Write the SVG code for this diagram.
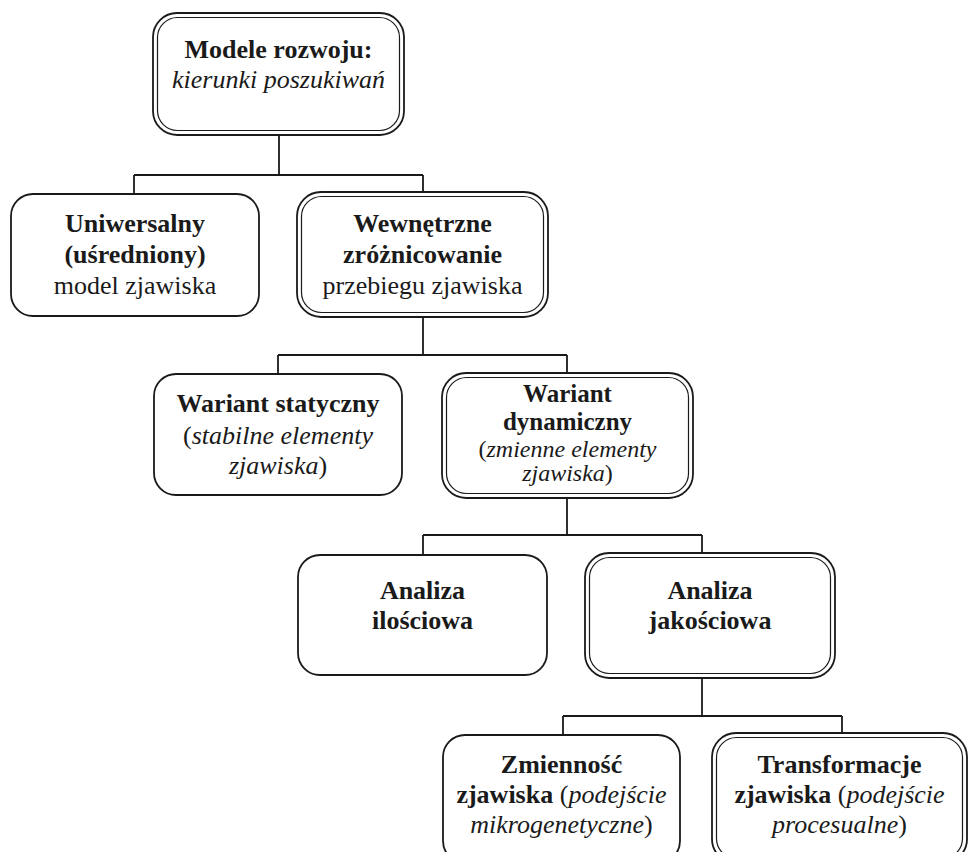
<svg xmlns="http://www.w3.org/2000/svg" width="970" height="852" viewBox="0 0 970 852">
<style>
.o{fill:#fff;stroke:#1a1a1a;stroke-width:1.8}
.i{fill:none;stroke:#1a1a1a;stroke-width:1.2}
.c{fill:none;stroke:#1a1a1a;stroke-width:1.8}
text{font-family:"Liberation Serif","Times New Roman",serif;font-size:26px;fill:#1a1a1a;text-anchor:middle}
.b{font-weight:bold}
.it{font-style:italic}
.s{font-size:24px}
.t{font-size:25px}
</style>
<rect width="970" height="852" fill="#fff"/>
<g id="connectors">
<path class="c" d="M279 135V175M134 175H423M134 175V194M423 175V192"/>
<path class="c" d="M423 317V355M278 355H567M278 355V374M567 355V373"/>
<path class="c" d="M567 498V535M423 535H702M423 535V555M702 535V553"/>
<path class="c" d="M702 678V716M563 716H842M563 716V735M842 716V733"/>
</g>
<g id="n-top">
<rect class="o" x="153" y="13" width="251" height="122" rx="24"/>
<rect class="i" x="157.5" y="17.5" width="242" height="113" rx="20"/>
<text x="278.5" y="58" class="b">Modele rozwoju:</text>
<text x="278.5" y="88" class="it">kierunki poszukiwań</text>
</g>
<g id="n-uniwersalny">
<rect class="o" x="11" y="194" width="248" height="122" rx="22"/>
<text x="135" y="232" class="b">Uniwersalny</text>
<text x="135" y="263" class="b">(uśredniony)</text>
<text x="135" y="294">model zjawiska</text>
</g>
<g id="n-wewnetrzne">
<rect class="o" x="297" y="192" width="251" height="125" rx="24"/>
<rect class="i" x="301.5" y="196.5" width="242" height="116" rx="20"/>
<text x="422.5" y="232" class="b">Wewnętrzne</text>
<text x="422.5" y="263" class="b">zróżnicowanie</text>
<text x="422.5" y="294">przebiegu zjawiska</text>
</g>
<g id="n-statyczny">
<rect class="o" x="154" y="374" width="248" height="121" rx="22"/>
<text x="278" y="412" class="b">Wariant statyczny</text>
<text x="278" y="444">(<tspan class="it">stabilne elementy</tspan></text>
<text x="278" y="474"><tspan class="it">zjawiska</tspan>)</text>
</g>
<g id="n-dynamiczny">
<rect class="o" x="442" y="373" width="251" height="125" rx="24"/>
<rect class="i" x="446.5" y="377.5" width="242" height="116" rx="20"/>
<text x="567.5" y="402" class="b t">Wariant</text>
<text x="567.5" y="430" class="b t">dynamiczny</text>
<text x="567.5" y="457" class="s">(<tspan class="it">zmienne elementy</tspan></text>
<text x="567.5" y="481" class="s"><tspan class="it">zjawiska</tspan>)</text>
</g>
<g id="n-ilosciowa">
<rect class="o" x="298" y="555" width="249" height="120" rx="22"/>
<text x="422.5" y="599" class="b">Analiza</text>
<text x="422.5" y="629" class="b">ilościowa</text>
</g>
<g id="n-jakosciowa">
<rect class="o" x="585" y="553" width="250" height="125" rx="24"/>
<rect class="i" x="589.5" y="557.5" width="241" height="116" rx="20"/>
<text x="710" y="599" class="b">Analiza</text>
<text x="710" y="629" class="b">jakościowa</text>
</g>
<g id="n-zmiennosc">
<rect class="o" x="443" y="735" width="237" height="128" rx="22"/>
<text x="561.5" y="773" class="b">Zmienność</text>
<text x="561.5" y="803"><tspan class="b">zjawiska</tspan> (<tspan class="it">podejście</tspan></text>
<text x="561.5" y="833"><tspan class="it">mikrogenetyczne</tspan>)</text>
</g>
<g id="n-transformacje">
<rect class="o" x="712" y="733" width="255" height="130" rx="24"/>
<rect class="i" x="716.5" y="737.5" width="246" height="121" rx="20"/>
<text x="839.5" y="773" class="b">Transformacje</text>
<text x="839.5" y="803"><tspan class="b">zjawiska</tspan> (<tspan class="it">podejście</tspan></text>
<text x="839.5" y="833"><tspan class="it">procesualne</tspan>)</text>
</g>
</svg>
